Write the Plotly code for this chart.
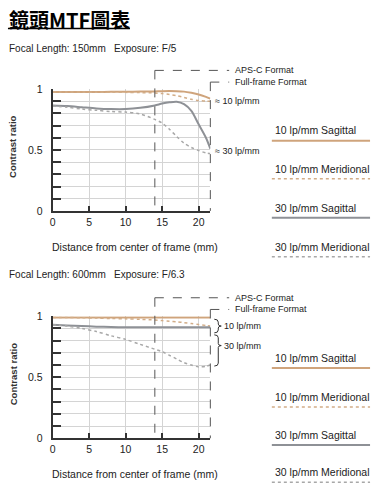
import plotly.graph_objects as go

W, H = 376, 495

# ---------------- data ----------------
dist = [0, 2, 4, 6, 8, 10, 12, 14, 15, 16, 17, 18, 19, 20, 21, 21.6]

# Chart 1: 150mm F/5
c1_10s = [0.975, 0.975, 0.975, 0.975, 0.976, 0.977, 0.978, 0.980, 0.982, 0.983, 0.982, 0.978, 0.968, 0.955, 0.935, 0.920]
c1_10m = [0.975, 0.975, 0.974, 0.973, 0.972, 0.972, 0.970, 0.967, 0.962, 0.955, 0.945, 0.930, 0.915, 0.905, 0.900, 0.900]
c1_30s = [0.865, 0.860, 0.850, 0.840, 0.835, 0.835, 0.845, 0.865, 0.880, 0.890, 0.895, 0.875, 0.820, 0.710, 0.600, 0.510]
c1_30m = [0.860, 0.850, 0.835, 0.825, 0.815, 0.810, 0.795, 0.750, 0.720, 0.670, 0.610, 0.555, 0.520, 0.495, 0.475, 0.470]

# Chart 2: 600mm F/6.3
c2_10s = [0.990, 0.990, 0.990, 0.990, 0.990, 0.990, 0.990, 0.990, 0.990, 0.990, 0.990, 0.990, 0.990, 0.990, 0.990, 0.990]
c2_10m = [0.990, 0.990, 0.988, 0.985, 0.982, 0.979, 0.975, 0.970, 0.965, 0.960, 0.955, 0.948, 0.940, 0.932, 0.925, 0.920]
c2_30s = [0.930, 0.925, 0.920, 0.915, 0.912, 0.910, 0.910, 0.910, 0.910, 0.910, 0.910, 0.910, 0.910, 0.910, 0.910, 0.910]
c2_30m = [0.930, 0.920, 0.900, 0.875, 0.840, 0.810, 0.770, 0.730, 0.710, 0.680, 0.650, 0.620, 0.600, 0.585, 0.590, 0.600]

x_tickvals = [0, 5, 10, 15, 20]
y_tickvals = [0, 0.1, 0.2, 0.3, 0.4, 0.5, 0.6, 0.7, 0.8, 0.9, 1.0]
y_ticktext = ["0", "", "", "", "", "0.5", "", "", "", "", "1"]
apsc_edge = 14
ff_edge = 21.6

series_names = ["10 lp/mm Sagittal", "10 lp/mm Meridional", "30 lp/mm Sagittal", "30 lp/mm Meridional"]
titles = ["Focal Length: 150mm   Exposure: F/5", "Focal Length: 600mm   Exposure: F/6.3"]

# ---------------- styles ----------------
TAN = "#cfa47c"
TAN_DOT = "#d2ad88"
GRAY_S = "#8e9196"
GRAY_M = "#a8a8a8"
styles = [
    dict(color=TAN, width=2, dash="solid"),
    dict(color=TAN_DOT, width=1.5, dash="dot"),
    dict(color=GRAY_S, width=2, dash="solid"),
    dict(color=GRAY_M, width=1.5, dash="dot"),
]
FONT = "Liberation Sans, Arial, sans-serif"
TXT = "#222222"


def px(xp):
    return xp / W


def py(yp):
    return 1 - yp / H


X0, X1 = 50, 209  # plot x pixel extent
charts = [
    dict(top=85, bot=210, data=[c1_10s, c1_10m, c1_30s, c1_30m], title_y=44,
         apsc_top=66, ff_top=78, legend_text=[127, 167, 207, 247], legend_line=[138, 177, 217, 257]),
    dict(top=318, bot=443, data=[c2_10s, c2_10m, c2_30s, c2_30m], title_y=275,
         apsc_top=299, ff_top=311, legend_text=[361, 401, 440, 478], legend_line=[371, 411, 450, 488]),
]

fig = go.Figure()
shapes = []
annotations = []

for i, ch in enumerate(charts):
    xa = "x" if i == 0 else "x2"
    ya = "y" if i == 0 else "y2"
    for name, vals, st in zip(series_names, ch["data"], styles):
        fig.add_trace(go.Scatter(x=dist, y=vals, mode="lines", name=name, xaxis=xa, yaxis=ya,
                                 line=dict(color=st["color"], width=st["width"], dash=st["dash"],
                                           shape="spline", smoothing=0.8),
                                 showlegend=False, hoverinfo="skip"))
    axkey = "" if i == 0 else "2"
    fig.update_layout(**{
        "xaxis" + axkey: dict(domain=[px(X0), px(X1)], range=[0, ff_edge], anchor=ya,
                              tickvals=x_tickvals, ticks="inside", ticklen=5, tickwidth=1.5,
                              tickcolor="#333", showline=True, linecolor="#333", linewidth=2,
                              showgrid=True, gridcolor="#d4d4d4", gridwidth=1, zeroline=False,
                              tickfont=dict(family=FONT, size=10.5, color=TXT), fixedrange=True),
        "yaxis" + axkey: dict(domain=[py(ch["bot"]), py(ch["top"])], range=[0, 1], anchor=xa,
                              tickvals=y_tickvals, ticktext=y_ticktext, ticks="inside", ticklen=8,
                              tickwidth=1.5, tickcolor="#333", showline=True, linecolor="#333",
                              linewidth=2, showgrid=True, gridcolor="#d4d4d4", gridwidth=1,
                              zeroline=False, ticklabelstandoff=6,
                              tickfont=dict(family=FONT, size=10.5, color=TXT), fixedrange=True),
    })

    # subtitle
    annotations.append(dict(x=px(4), y=py(ch["title_y"]), xref="paper", yref="paper", text=titles[i],
                            showarrow=False, xanchor="left", yanchor="middle",
                            font=dict(family=FONT, size=10, color=TXT)))
    # axis titles
    annotations.append(dict(x=px(10), y=py((ch["top"] + ch["bot"]) / 2 - 3), xref="paper", yref="paper",
                            text="<b>Contrast ratio</b>", textangle=-90, showarrow=False,
                            xanchor="center", yanchor="middle", font=dict(family=FONT, size=9.5, color="#333")))
    annotations.append(dict(x=px(133), y=py(ch["bot"] + 37), xref="paper", yref="paper",
                            text="Distance from center of frame (mm)", showarrow=False,
                            xanchor="center", yanchor="middle", font=dict(family=FONT, size=10.5, color=TXT)))

    # format boxes
    x_apsc = X0 + (X1 - X0) * apsc_edge / ff_edge
    x_ff = X0 + (X1 - X0) * ff_edge / ff_edge
    dash_line = dict(color="#555", width=1, dash="dash")
    shapes += [
        dict(type="line", xref="paper", yref="paper", x0=px(x_apsc), x1=px(x_apsc),
             y0=py(ch["apsc_top"]), y1=py(ch["bot"]), line=dash_line),
        dict(type="line", xref="paper", yref="paper", x0=px(x_apsc), x1=px(228),
             y0=py(ch["apsc_top"]), y1=py(ch["apsc_top"]), line=dash_line),
        dict(type="line", xref="paper", yref="paper", x0=px(x_ff), x1=px(x_ff),
             y0=py(ch["ff_top"]), y1=py(ch["bot"]), line=dash_line),
        dict(type="line", xref="paper", yref="paper", x0=px(x_ff), x1=px(228),
             y0=py(ch["ff_top"]), y1=py(ch["ff_top"]), line=dash_line),
    ]
    annotations.append(dict(x=px(232), y=py(ch["apsc_top"]), xref="paper", yref="paper", text="APS-C Format",
                            showarrow=False, xanchor="left", yanchor="middle",
                            font=dict(family=FONT, size=9, color=TXT)))
    annotations.append(dict(x=px(232), y=py(ch["ff_top"]), xref="paper", yref="paper",
                            text="Full-frame Format", showarrow=False, xanchor="left", yanchor="middle",
                            font=dict(family=FONT, size=9, color=TXT)))

    # legend at right
    for name, st, ty, ly in zip(series_names, styles, ch["legend_text"], ch["legend_line"]):
        annotations.append(dict(x=px(272), y=py(ty), xref="paper", yref="paper", text=name,
                                showarrow=False, xanchor="left", yanchor="middle",
                                font=dict(family=FONT, size=10.5, color=TXT)))
        shapes.append(dict(type="line", xref="paper", yref="paper", x0=px(271), x1=px(370),
                           y0=py(ly), y1=py(ly),
                           line=dict(color=st["color"], width=st["width"], dash=st["dash"])))

# chart 1 end labels
annotations.append(dict(x=px(212), y=py(97), xref="paper", yref="paper", text="≈ 10 lp/mm",
                        showarrow=False, xanchor="left", yanchor="middle",
                        font=dict(family=FONT, size=9, color=TXT)))
annotations.append(dict(x=px(212), y=py(149), xref="paper", yref="paper", text="≈ 30 lp/mm",
                        showarrow=False, xanchor="left", yanchor="middle",
                        font=dict(family=FONT, size=9, color=TXT)))


# chart 2 braces
def brace(y0, ym, y1, xl=213, xm=217, xt=220):
    return (f"M {px(xl)},{py(y0)} Q {px(xm)},{py(y0)} {px(xm)},{py(y0 + 3)} "
            f"L {px(xm)},{py(ym - 2)} Q {px(xm)},{py(ym)} {px(xt)},{py(ym)} "
            f"Q {px(xm)},{py(ym)} {px(xm)},{py(ym + 2)} "
            f"L {px(xm)},{py(y1 - 3)} Q {px(xm)},{py(y1)} {px(xl)},{py(y1)}")


shapes.append(dict(type="path", xref="paper", yref="paper", path=brace(321, 328, 335),
                   line=dict(color="#333", width=1)))
shapes.append(dict(type="path", xref="paper", yref="paper", path=brace(337, 348, 369),
                   line=dict(color="#333", width=1)))
annotations.append(dict(x=px(221), y=py(328), xref="paper", yref="paper", text="10 lp/mm",
                        showarrow=False, xanchor="left", yanchor="middle",
                        font=dict(family=FONT, size=9, color=TXT)))
annotations.append(dict(x=px(221), y=py(348), xref="paper", yref="paper", text="30 lp/mm",
                        showarrow=False, xanchor="left", yanchor="middle",
                        font=dict(family=FONT, size=9, color=TXT)))

# main title
annotations.append(dict(x=px(4), y=py(14), xref="paper", yref="paper", text="<b>鏡頭MTF圖表</b>",
                        showarrow=False, xanchor="left", yanchor="middle",
                        font=dict(family="Noto Sans CJK TC, Liberation Sans, sans-serif", size=20, color="#000")))
shapes.append(dict(type="line", xref="paper", yref="paper", x0=px(5), x1=px(128), y0=py(23), y1=py(23),
                   line=dict(color="#000", width=1.5)))

fig.update_layout(width=W, height=H, autosize=False, margin=dict(l=0, r=0, t=0, b=0),
                  paper_bgcolor="white", plot_bgcolor="white", showlegend=False,
                  shapes=shapes, annotations=annotations)

fig.write_html("out.html", config={"displayModeBar": False},
               post_script="document.body.style.margin='0';document.body.style.padding='0';")
